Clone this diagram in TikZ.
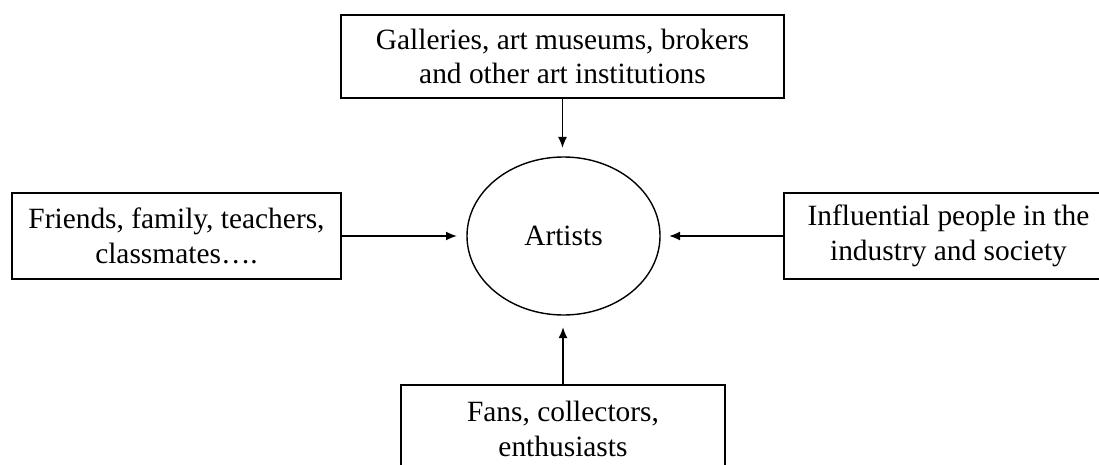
\documentclass[tikz,border=0pt]{standalone}
\usepackage{fontspec}
\setmainfont{Liberation Serif}
\usetikzlibrary{arrows.meta,shapes.geometric}
\begin{document}
\begin{tikzpicture}[x=1pt,y=-1pt,
  every node/.style={inner sep=0pt, outer sep=0pt},
  sourcebox/.style={draw, line width=1.8pt, align=center,
    font=\fontsize{29.4}{34.5}\selectfont},
  centre/.style={draw, ellipse, line width=1.4pt,
    font=\fontsize{29.4}{34}\selectfont},
  link/.style={line width=1.8pt, -{Latex[length=11pt,width=9pt]}}]
  \useasboundingbox (0,0) rectangle (1099,465);
  \clip (0,0) rectangle (1099,465);

  % central ellipse
  \node[centre, minimum width=193pt, minimum height=158pt] (art) at (563.5,236) {Artists};

  % surrounding groups
  \node[sourcebox, minimum width=443pt, minimum height=83pt] (top) at (562.5,56.5)
    {Galleries, art museums, brokers\\and other art institutions};
  \node[sourcebox, minimum width=329pt, minimum height=86pt] (left) at (176.5,236)
    {Friends, family, teachers,\\classmates….};
  \node[sourcebox, minimum width=329pt, minimum height=86pt] (right) at (948.5,236)
    {Influential people in the\\industry and society};
  \node[sourcebox, minimum width=324pt, minimum height=88pt, anchor=north] (bottom) at (563,385)
    {Fans, collectors,\\enthusiasts};

  % influences pointing at the artists
  \draw[link, shorten >=9pt] (top.south) -- (top.south |- art.north);
  \draw[link, shorten >=10pt] (left.east) -- (art.west);
  \draw[link, shorten >=9pt] (right.west) -- (art.east);
  \draw[link, shorten >=12pt] (bottom.north) -- (bottom.north |- art.south);
\end{tikzpicture}
\end{document}
